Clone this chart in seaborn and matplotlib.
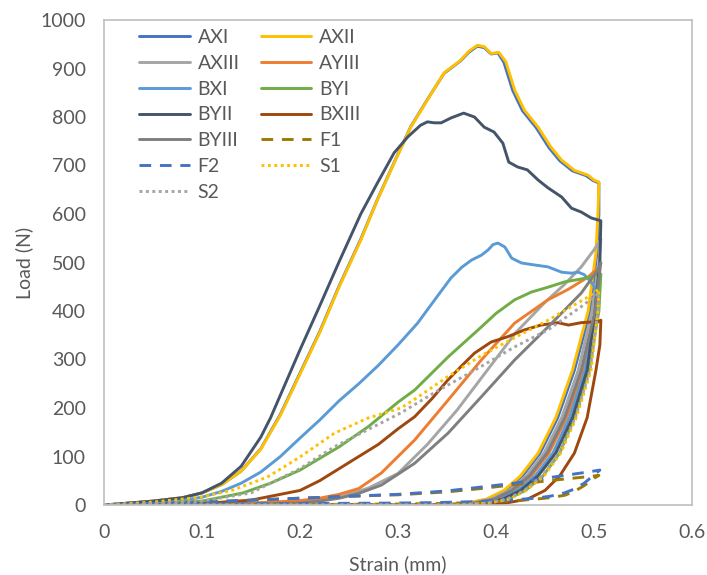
import matplotlib
matplotlib.use("Agg")
import matplotlib.pyplot as plt
import seaborn as sns
import pandas as pd

sns.set_style("white")
plt.rcParams['font.family'] = ['Lato', 'DejaVu Sans']

# ---------------- data (strain, load) : loading then unloading ----------------
AXII_x = [0, 0.02, 0.05, 0.08, 0.1, 0.12, 0.14, 0.16, 0.18, 0.2, 0.22, 0.24, 0.262, 0.279, 0.296, 0.313,
          0.33, 0.347, 0.364, 0.372, 0.381, 0.388, 0.395, 0.403, 0.41, 0.419, 0.429, 0.443, 0.456, 0.467,
          0.48, 0.494, 0.5, 0.505,
          0.504, 0.502, 0.494, 0.478, 0.461, 0.443, 0.425, 0.408, 0.39, 0.37, 0.34, 0.0]
AXII_y = [0, 3, 8, 15, 25, 42, 70, 115, 185, 270, 355, 450, 546, 629, 705, 779,
          835, 891, 917, 935, 948, 945, 931, 933, 914, 856, 814, 779, 738, 711,
          690, 680, 670, 666,
          600, 520, 400, 278, 180, 107, 60, 30, 12, 4, 0, 0]

AXI_x = [0, 0.02, 0.05, 0.08, 0.1, 0.12, 0.14, 0.16, 0.18, 0.2, 0.22, 0.24, 0.262, 0.279, 0.296, 0.313,
         0.33, 0.347, 0.364, 0.372, 0.381, 0.388, 0.395, 0.402, 0.408, 0.417, 0.427, 0.441, 0.454, 0.465,
         0.478, 0.492, 0.499, 0.505,
         0.505, 0.503, 0.496, 0.48, 0.463, 0.445, 0.427, 0.41, 0.392, 0.372, 0.342, 0.0]
AXI_y = [0, 3, 8, 15, 25, 42, 70, 116, 187, 272, 357, 452, 548, 630, 706, 780,
         836, 890, 916, 933, 946, 943, 930, 932, 913, 855, 813, 778, 737, 710,
         689, 679, 669, 664,
         600, 520, 400, 278, 180, 107, 60, 30, 12, 4, 0, 0]

AXIII_x = [0, 0.05, 0.1, 0.15, 0.2, 0.24, 0.27, 0.3, 0.33, 0.36, 0.39, 0.42, 0.45, 0.47, 0.487, 0.5, 0.507,
           0.507, 0.505, 0.498, 0.484, 0.467, 0.449, 0.431, 0.413, 0.395, 0.375, 0.345, 0.0]
AXIII_y = [0, 1, 2, 3, 6, 16, 35, 65, 125, 195, 275, 355, 418, 455, 491, 526, 548,
           548, 500, 400, 278, 180, 107, 60, 30, 12, 4, 0, 0]

AYIII_x = [0, 0.05, 0.1, 0.15, 0.2, 0.22, 0.24, 0.26, 0.283, 0.317, 0.351, 0.385, 0.419, 0.453, 0.474, 0.494, 0.505,
           0.503, 0.489, 0.472, 0.454, 0.436, 0.418, 0.4, 0.38, 0.35, 0.0]
AYIII_y = [0, 1, 2, 4, 9, 14, 22, 34, 66, 134, 216, 299, 375, 423, 445, 470, 490,
           400, 278, 180, 107, 60, 30, 12, 4, 0, 0]

BXI_x = [0, 0.05, 0.08, 0.1, 0.12, 0.14, 0.16, 0.18, 0.2, 0.22, 0.24, 0.26, 0.28, 0.3, 0.32, 0.34, 0.354,
         0.365, 0.375, 0.385, 0.392, 0.397, 0.402, 0.409, 0.416, 0.426, 0.439, 0.453, 0.467, 0.477, 0.484,
         0.49, 0.497, 0.502,
         0.502, 0.491, 0.475, 0.458, 0.44, 0.422, 0.404, 0.384, 0.355, 0.0]
BXI_y = [0, 5, 10, 16, 28, 45, 68, 100, 138, 175, 215, 250, 288, 330, 375, 430, 468,
         490, 505, 515, 526, 537, 540, 532, 509, 499, 495, 491, 480, 478, 480,
         475, 460, 445,
         400, 278, 180, 107, 60, 30, 12, 4, 0, 0]

BYI_x = [0, 0.05, 0.1, 0.142, 0.17, 0.2, 0.24, 0.27, 0.3, 0.317, 0.351, 0.385, 0.4, 0.419, 0.436, 0.453,
         0.47, 0.487, 0.5, 0.507,
         0.505, 0.495, 0.48, 0.465, 0.448, 0.43, 0.412, 0.392, 0.362, 0.0]
BYI_y = [0, 3, 8, 25, 45, 72, 120, 162, 212, 237, 305, 367, 395, 423, 439, 449,
         460, 466, 472, 476,
         400, 278, 180, 107, 60, 30, 12, 4, 0, 0]

BYII_x = [0, 0.05, 0.08, 0.1, 0.12, 0.14, 0.16, 0.17, 0.185, 0.2, 0.22, 0.24, 0.262, 0.279, 0.296, 0.31,
          0.323, 0.33, 0.337, 0.344, 0.354, 0.367, 0.378, 0.388, 0.398, 0.407, 0.413, 0.422, 0.432, 0.443,
          0.453, 0.467, 0.477, 0.487, 0.497, 0.507,
          0.506, 0.501, 0.493, 0.478, 0.461, 0.443, 0.425, 0.407, 0.387, 0.358, 0.0]
BYII_y = [0, 8, 15, 25, 45, 80, 140, 180, 250, 320, 410, 502, 600, 664, 726, 759,
          783, 790, 788, 788, 798, 808, 800, 779, 769, 746, 707, 697, 691, 670,
          654, 635, 612, 604, 592, 586,
          500, 400, 278, 180, 107, 60, 30, 12, 4, 0, 0]

BXIII_x = [0, 0.05, 0.1, 0.15, 0.2, 0.22, 0.24, 0.26, 0.28, 0.3, 0.317, 0.335, 0.351, 0.365, 0.378, 0.395,
           0.412, 0.429, 0.446, 0.463, 0.474, 0.487, 0.504, 0.507,
           0.507, 0.506, 0.502, 0.493, 0.48, 0.465, 0.45, 0.432, 0.41, 0.38, 0.0]
BXIII_y = [0, 1, 3, 10, 30, 50, 75, 100, 125, 157, 182, 220, 258, 287, 313, 336,
           347, 361, 371, 376, 371, 376, 378, 381,
           381, 330, 278, 180, 107, 60, 30, 12, 4, 0, 0]

BYIII_x = [0, 0.05, 0.1, 0.15, 0.2, 0.22, 0.24, 0.26, 0.283, 0.317, 0.351, 0.385, 0.419, 0.453, 0.487, 0.504, 0.507,
           0.501, 0.487, 0.47, 0.452, 0.434, 0.416, 0.398, 0.378, 0.348, 0.0]
BYIII_y = [0, 0, 1, 2, 4, 8, 14, 24, 41, 86, 148, 223, 299, 367, 437, 485, 500,
           400, 278, 180, 107, 60, 30, 12, 4, 0, 0]

F1_x = [0, 0.05, 0.1, 0.15, 0.2, 0.25, 0.3, 0.35, 0.385, 0.419, 0.453, 0.487, 0.505,
        0.5, 0.49, 0.48, 0.47, 0.455, 0.44, 0.42, 0.4, 0.38, 0.34, 0.3, 0.2, 0.0]
F1_y = [0, 3, 6, 10, 14, 18, 21, 27, 34, 42, 50, 57, 61,
        55, 40, 28, 20, 15, 12, 9, 7, 5, 3, 2, 1, 0]

F2_x = [0, 0.05, 0.1, 0.15, 0.2, 0.25, 0.3, 0.35, 0.385, 0.419, 0.453, 0.487, 0.506,
        0.5, 0.49, 0.48, 0.47, 0.455, 0.44, 0.42, 0.4, 0.38, 0.34, 0.3, 0.2, 0.1, 0.0]
F2_y = [0, 3, 6, 10, 14, 18, 22, 29, 37, 45, 56, 66, 72,
        62, 45, 33, 25, 18, 14, 11, 9, 7, 5, 4, 3, 2, 0]

S1_x = [0, 0.05, 0.098, 0.132, 0.167, 0.2, 0.235, 0.269, 0.303, 0.317, 0.351, 0.385, 0.419, 0.453, 0.494, 0.505,
        0.504, 0.497, 0.482, 0.466, 0.449, 0.431, 0.413, 0.393, 0.363, 0.0]
S1_y = [0, 6, 16, 31, 58, 99, 148, 179, 200, 218, 265, 308, 345, 381, 429, 445,
        400, 278, 180, 107, 60, 30, 12, 4, 0, 0]

S2_x = [0, 0.05, 0.1, 0.15, 0.2, 0.235, 0.269, 0.303, 0.34, 0.38, 0.419, 0.453, 0.487, 0.5, 0.505,
        0.504, 0.496, 0.481, 0.464, 0.447, 0.429, 0.411, 0.391, 0.36, 0.0]
S2_y = [0, 3, 8, 25, 75, 120, 155, 190, 235, 280, 326, 361, 409, 429, 437,
        400, 278, 180, 107, 60, 30, 12, 4, 0, 0]

series_names = ["AXI", "AXII", "AXIII", "AYIII", "BXI", "BYI", "BYII", "BXIII", "BYIII",
                "F1", "F2", "S1", "S2"]
series_x = [AXI_x, AXII_x, AXIII_x, AYIII_x, BXI_x, BYI_x, BYII_x, BXIII_x, BYIII_x,
            F1_x, F2_x, S1_x, S2_x]
series_y = [AXI_y, AXII_y, AXIII_y, AYIII_y, BXI_y, BYI_y, BYII_y, BXIII_y, BYIII_y,
            F1_y, F2_y, S1_y, S2_y]

x_ticks = [0, 0.1, 0.2, 0.3, 0.4, 0.5, 0.6]
x_tick_labels = ["0", "0.1", "0.2", "0.3", "0.4", "0.5", "0.6"]
y_ticks = [0, 100, 200, 300, 400, 500, 600, 700, 800, 900, 1000]

# ---------------- styles ----------------
colors = {"AXI": "#4472C4", "AXII": "#FFC000", "AXIII": "#A5A5A5", "AYIII": "#ED7D31",
          "BXI": "#5B9BD5", "BYI": "#70AD47", "BYII": "#44546A", "BXIII": "#9E480E",
          "BYIII": "#7F7F7F", "F1": "#9C7A00", "F2": "#4472C4", "S1": "#FFC000", "S2": "#A5A5A5"}
styles = {"F1": (0, (4, 3)), "F2": (0, (4, 3)), "S1": (0, (1, 1.2)), "S2": (0, (1, 1.2))}

fig = plt.figure(figsize=(7.07, 5.75), dpi=100)
ax = fig.add_axes([104 / 707, 1 - 505 / 575, (692 - 104) / 707, (505 - 20) / 575])

handles = {}
for name, xs, ys in zip(series_names, series_x, series_y):
    df = pd.DataFrame({"Strain": xs, "Load": ys})
    sns.lineplot(data=df, x="Strain", y="Load", sort=False, estimator=None, ax=ax,
                 color=colors[name], linewidth=2.1, linestyle=styles.get(name, "-"),
                 label=name, legend=False)
    handles[name] = ax.get_lines()[-1]

ax.set_xlim(0, 0.6)
ax.set_ylim(0, 1000)
ax.set_xticks(x_ticks)
ax.set_xticklabels(x_tick_labels)
ax.set_yticks(y_ticks)

txt = "#595959"
for s in ax.spines.values():
    s.set_visible(True)
    s.set_color("#BFBFBF")
    s.set_linewidth(1.2)
ax.tick_params(axis="both", which="both", direction="out", length=5, width=1.0,
               color="#BFBFBF", labelcolor=txt, labelsize=14, pad=8)
ax.tick_params(axis="x", pad=9)
ax.set_xlabel("Strain (mm)", fontsize=14, color=txt, labelpad=10)
ax.set_ylabel("Load (N)", fontsize=14, color=txt, labelpad=5)
ax.grid(False)

order = ["AXI", "AXIII", "BXI", "BYII", "BYIII", "F2", "S2",
         "AXII", "AYIII", "BYI", "BXIII", "F1", "S1"]
leg = ax.legend([handles[n] for n in order], order, ncol=2, loc="upper left",
                bbox_to_anchor=(0.04, 1.005), frameon=False, fontsize=14,
                handlelength=2.6, handletextpad=0.4, labelspacing=0.45,
                columnspacing=1.1, borderaxespad=0.2)
for t in leg.get_texts():
    t.set_color(txt)

fig.savefig("out.png", dpi=100)
